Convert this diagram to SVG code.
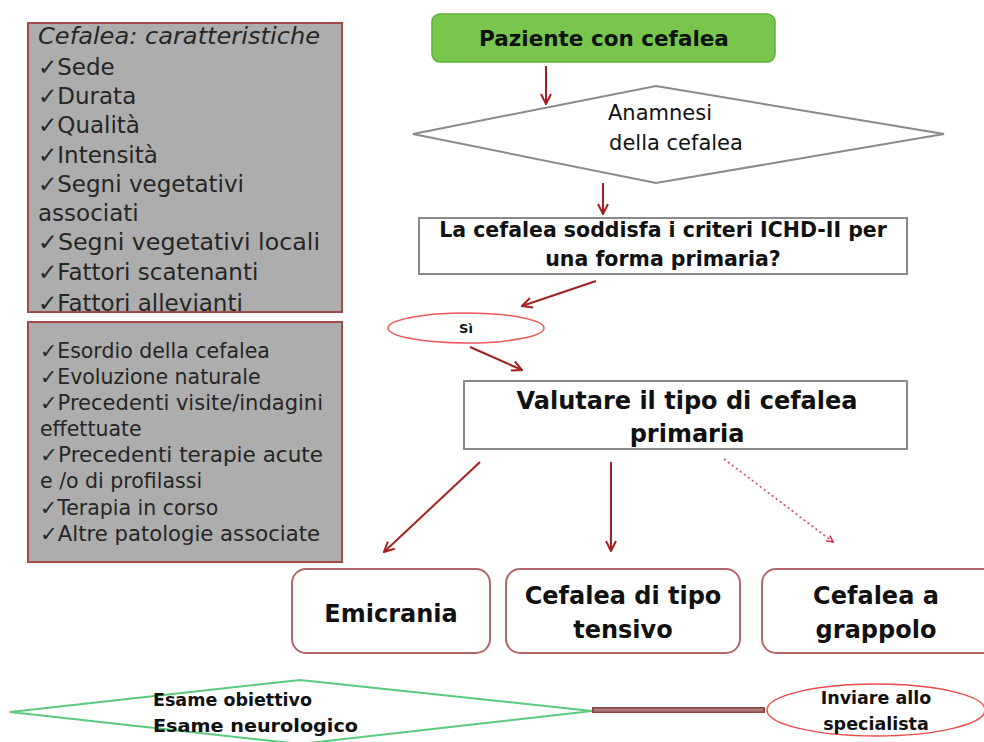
<svg xmlns="http://www.w3.org/2000/svg" width="984" height="742" viewBox="0 0 984 742">
<style>
.gbox{fill:#adadad;stroke:#a24a4a;stroke-width:2}
.lt{font-family:"DejaVu Sans","Liberation Sans",sans-serif;fill:#262626}
.b1{font-size:23px}
.b2{font-size:20.5px}
.bt{font-family:"DejaVu Sans","Liberation Sans",sans-serif;font-weight:bold;fill:#111;text-anchor:middle}
.rt{font-family:"DejaVu Sans","Liberation Sans",sans-serif;fill:#111;text-anchor:middle}
.wbox{fill:#fff;stroke:#8a8a8a;stroke-width:2}
.rbox{fill:#fff;stroke:#b06868;stroke-width:2}
.arr{stroke:#a52020;stroke-width:2;fill:none}
</style>
<defs>
<marker id="ah" viewBox="0 0 12 12" refX="11" refY="6" markerWidth="12" markerHeight="12" markerUnits="userSpaceOnUse" orient="auto">
<path d="M1,1 L11,6 L1,11" fill="none" stroke="#a52020" stroke-width="2"/>
</marker>
<marker id="ahs" viewBox="0 0 10 10" refX="9" refY="5" markerWidth="8" markerHeight="8" markerUnits="userSpaceOnUse" orient="auto">
<path d="M1,1 L9,5 L1,9" fill="none" stroke="#d03848" stroke-width="2"/>
</marker>
<clipPath id="c1"><rect x="28" y="23" width="314" height="289"/></clipPath>
</defs>
<rect width="984" height="742" fill="#fff"/>

<g id="box-caratteristiche">
<rect class="gbox" x="28" y="23" width="314" height="289"/>
<g clip-path="url(#c1)">
<text class="lt" x="38" y="44" font-size="23" font-style="italic" fill="#3a3a3a" textLength="282" lengthAdjust="spacingAndGlyphs">Cefalea: caratteristiche</text>
<text class="lt b1" x="38" y="75">✓Sede</text>
<text class="lt b1" x="38" y="104">✓Durata</text>
<text class="lt b1" x="38" y="133">✓Qualità</text>
<text class="lt b1" x="38" y="163">✓Intensità</text>
<text class="lt b1" x="38" y="192">✓Segni vegetativi</text>
<text class="lt b1" x="38" y="221">associati</text>
<text class="lt b1" x="38" y="250" textLength="282" lengthAdjust="spacingAndGlyphs">✓Segni vegetativi locali</text>
<text class="lt b1" x="38" y="280">✓Fattori scatenanti</text>
<text class="lt b1" x="38" y="311">✓Fattori allevianti</text>
</g>
<rect x="28" y="23" width="314" height="289" fill="none" stroke="#a24a4a" stroke-width="2"/>
</g>

<g id="box-anamnesi-dettagli">
<rect class="gbox" x="28" y="322" width="314" height="240"/>
<text class="lt b2" x="40" y="358">✓Esordio della cefalea</text>
<text class="lt b2" x="40" y="384">✓Evoluzione naturale</text>
<text class="lt b2" x="40" y="410" textLength="283" lengthAdjust="spacingAndGlyphs">✓Precedenti visite/indagini</text>
<text class="lt b2" x="40" y="436">effettuate</text>
<text class="lt b2" x="40" y="462" textLength="283" lengthAdjust="spacingAndGlyphs">✓Precedenti terapie acute</text>
<text class="lt b2" x="40" y="488">e /o di profilassi</text>
<text class="lt b2" x="40" y="515">✓Terapia in corso</text>
<text class="lt b2" x="40" y="541" textLength="280" lengthAdjust="spacingAndGlyphs">✓Altre patologie associate</text>
</g>

<g id="paziente">
<rect x="432" y="14" width="343" height="48" rx="8" fill="#78c64c" stroke="#5fae3a" stroke-width="1.5"/>
<text class="bt" x="604" y="46" font-size="21.5">Paziente con cefalea</text>
</g>

<g id="anamnesi">
<polygon points="413,134 656,86 944,134 656,183" fill="#fff" stroke="#8a8a8a" stroke-width="2"/>
<text class="rt" x="660" y="120" font-size="21">Anamnesi</text>
<text class="rt" x="676" y="150" font-size="21">della cefalea</text>
</g>

<g id="criteri">
<rect class="wbox" x="419" y="218" width="488" height="56"/>
<text class="bt" x="663" y="237" font-size="20.5">La cefalea soddisfa i criteri ICHD-II per</text>
<text class="bt" x="663" y="266" font-size="20.5">una forma primaria?</text>
</g>

<g id="si">
<ellipse cx="466" cy="328" rx="78" ry="15" fill="#fff" stroke="#ee5a5a" stroke-width="1.5"/>
<text class="bt" x="466" y="333" font-size="13">Sì</text>
</g>

<g id="valutare">
<rect class="wbox" x="464" y="381" width="443" height="68"/>
<text class="bt" x="687" y="409" font-size="24">Valutare il tipo di cefalea</text>
<text class="bt" x="687" y="442" font-size="24">primaria</text>
</g>

<g id="emicrania">
<rect class="rbox" x="292" y="569" width="198" height="84" rx="14"/>
<text class="bt" x="391" y="622" font-size="24">Emicrania</text>
</g>

<g id="tensivo">
<rect class="rbox" x="506" y="569" width="234" height="84" rx="14"/>
<text class="bt" x="623" y="604" font-size="24">Cefalea di tipo</text>
<text class="bt" x="623" y="638" font-size="24">tensivo</text>
</g>

<g id="grappolo">
<rect class="rbox" x="762" y="569" width="240" height="84" rx="14"/>
<text class="bt" x="876" y="604" font-size="24">Cefalea a</text>
<text class="bt" x="876" y="638" font-size="24">grappolo</text>
</g>

<g id="esame">
<polygon points="10,712 300,680 592,711 300,744" fill="#fff" stroke="#5acb7e" stroke-width="2"/>
<text x="153" y="706" font-family="DejaVu Sans,Liberation Sans,sans-serif" font-weight="bold" font-size="17.5" fill="#111">Esame obiettivo</text>
<text x="153" y="732" font-family="DejaVu Sans,Liberation Sans,sans-serif" font-weight="bold" font-size="17.5" fill="#111" textLength="205" lengthAdjust="spacingAndGlyphs">Esame neurologico</text>
</g>

<g id="inviare">
<ellipse cx="876" cy="710" rx="109" ry="26" fill="#fff" stroke="#ee4a4a" stroke-width="1.5"/>
<text class="bt" x="876" y="704" font-size="17.5">Inviare allo</text>
<text class="bt" x="876" y="730" font-size="17.5">specialista</text>
</g>

<g id="connectors">
<line class="arr" x1="546" y1="66" x2="546" y2="104" marker-end="url(#ah)"/>
<line class="arr" x1="603" y1="183" x2="603" y2="214" marker-end="url(#ah)"/>
<line class="arr" x1="596" y1="281" x2="522" y2="306" stroke-width="1.6" marker-end="url(#ah)"/>
<line class="arr" x1="470" y1="347" x2="522" y2="370" stroke-width="1.6" marker-end="url(#ah)"/>
<line class="arr" x1="480" y1="462" x2="384" y2="552" stroke="#c02828" marker-end="url(#ah)"/>
<line class="arr" x1="611" y1="462" x2="611" y2="551" stroke-width="1.6" marker-end="url(#ah)"/>
<line x1="724" y1="459" x2="833" y2="542" stroke="#d84858" stroke-width="1.6" stroke-dasharray="2 3" marker-end="url(#ahs)"/>
<line x1="592" y1="710" x2="765" y2="710" stroke="#8a4646" stroke-width="6"/>
<line x1="594" y1="710" x2="763" y2="710" stroke="#b07a7a" stroke-width="3"/>
</g>
</svg>
